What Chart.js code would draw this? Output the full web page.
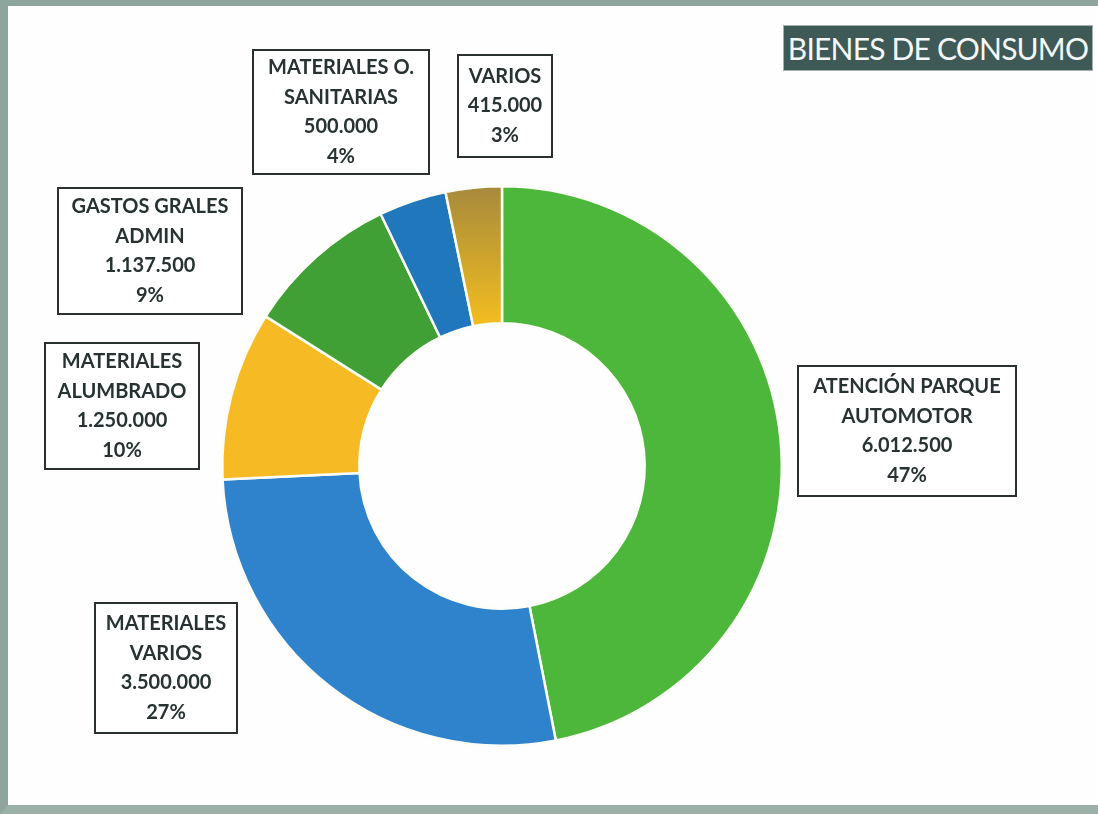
<!DOCTYPE html>
<html>
<head>
<meta charset="utf-8">
<script src="https://cdn.jsdelivr.net/npm/chart.js@4/dist/chart.umd.min.js"></script>
<style>
  html, body { margin: 0; padding: 0; background: #fff; }
  .frame {
    position: relative;
    width: 1098px;
    height: 814px;
    overflow: hidden;
    background: #fdfefd;
  }
  .frame:before {
    content: '';
    position: absolute;
    left: 0; top: 0; right: -20px; bottom: 0;
    border-left: 8px solid #8da59c;
    border-top: 6px solid #8da59c;
    border-bottom: 9px solid #9db0a8;
    pointer-events: none;
  }
  #myChart { position: absolute; left: 0; top: 0; }
  .title {
    position: absolute;
    left: 783px; top: 25px;
    width: 310px; height: 46px;
    background: #3f5957;
    border: 1px solid #9fb3ae;
    box-sizing: border-box;
    color: #f4f8f8;
    font-family: Lato, 'Open Sans', sans-serif;
    font-size: 30px;
    line-height: 44px;
    text-align: center;
    letter-spacing: -0.8px;
    white-space: nowrap;
  }
</style>
</head>
<body>
<div class="frame">
  <canvas id="myChart" width="1098" height="814"></canvas>
  <div class="title">BIENES DE CONSUMO</div>
</div>
<script>
// DATA

const categories = [
  ['ATENCIÓN PARQUE', 'AUTOMOTOR'],
  ['MATERIALES', 'VARIOS'],
  ['MATERIALES', 'ALUMBRADO'],
  ['GASTOS GRALES', 'ADMIN'],
  ['MATERIALES O.', 'SANITARIAS'],
  ['VARIOS'],
];
const values = [6012500, 3500000, 1250000, 1137500, 500000, 415000];

// LOOK

const colors = ['#4cb73b', '#2f82cc', '#f6bb24', '#40a036', '#2177bb', 'gold'];

// label box centre, width, height
const labelBoxes = [
  [907, 431, 218, 130],
  [166, 668, 142, 130],
  [122, 406, 154, 126],
  [150, 251, 184, 126],
  [341, 112, 176, 124],
  [505, 106, 94, 102],
];

function formatNumber(n) {
  return String(n).replace(/\B(?=(\d{3})+(?!\d))/g, '.');
}

const total = values.reduce(function (a, b) { return a + b; }, 0);

function sliceColor(context) {
  const c = colors[context.dataIndex];
  if (c !== 'gold') return c;
  const g = context.chart.ctx.createLinearGradient(0, 188, 0, 328);
  g.addColorStop(0, '#a88a3c');
  g.addColorStop(0.45, '#c9a22e');
  g.addColorStop(1, '#f5bd1f');
  return g;
}

// LABEL BOXES

const boxLabels = {
  id: 'boxLabels',
  afterDraw(chart) {
    const ctx = chart.ctx;
    ctx.save();
    labelBoxes.forEach(function (b, i) {
      const lines = categories[i].concat([
        formatNumber(values[i]),
        Math.round(values[i] / total * 100) + '%',
      ]);
      const x = b[0], y = b[1], w = b[2], h = b[3];
      ctx.fillStyle = '#ffffff';
      ctx.fillRect(x - w / 2, y - h / 2, w, h);
      ctx.strokeStyle = '#2a2f2f';
      ctx.lineWidth = 2;
      ctx.strokeRect(x - w / 2, y - h / 2, w, h);
      ctx.fillStyle = '#293232';
      ctx.font = 'bold 20px Lato, "Open Sans", sans-serif';
      ctx.textAlign = 'center';
      ctx.textBaseline = 'middle';
      const step = 29.5;
      const start = y - (lines.length - 1) * step / 2;
      lines.forEach(function (t, k) {
        ctx.fillText(t, x, start + k * step);
      });
    });
    ctx.restore();
  },
};

// CHART

const ctx = document.getElementById('myChart').getContext('2d');

const chart = new Chart(ctx, {
  type: 'doughnut',
  data: {
    labels: categories.map(function (c) { return c.join(' '); }),
    datasets: [
      {
        data: values,
        backgroundColor: sliceColor,
        borderColor: '#fbfdf6',
        borderWidth: 2.5,
      },
    ],
  },
  options: {
    responsive: false,
    animation: false,
    cutout: '51%',
    layout: {
      padding: { top: 185, bottom: 67, left: 221, right: 315 },
    },
    plugins: {
      legend: { display: false },
      tooltip: { enabled: false },
    },
  },
  plugins: [boxLabels],
});
</script>
</body>
</html>
